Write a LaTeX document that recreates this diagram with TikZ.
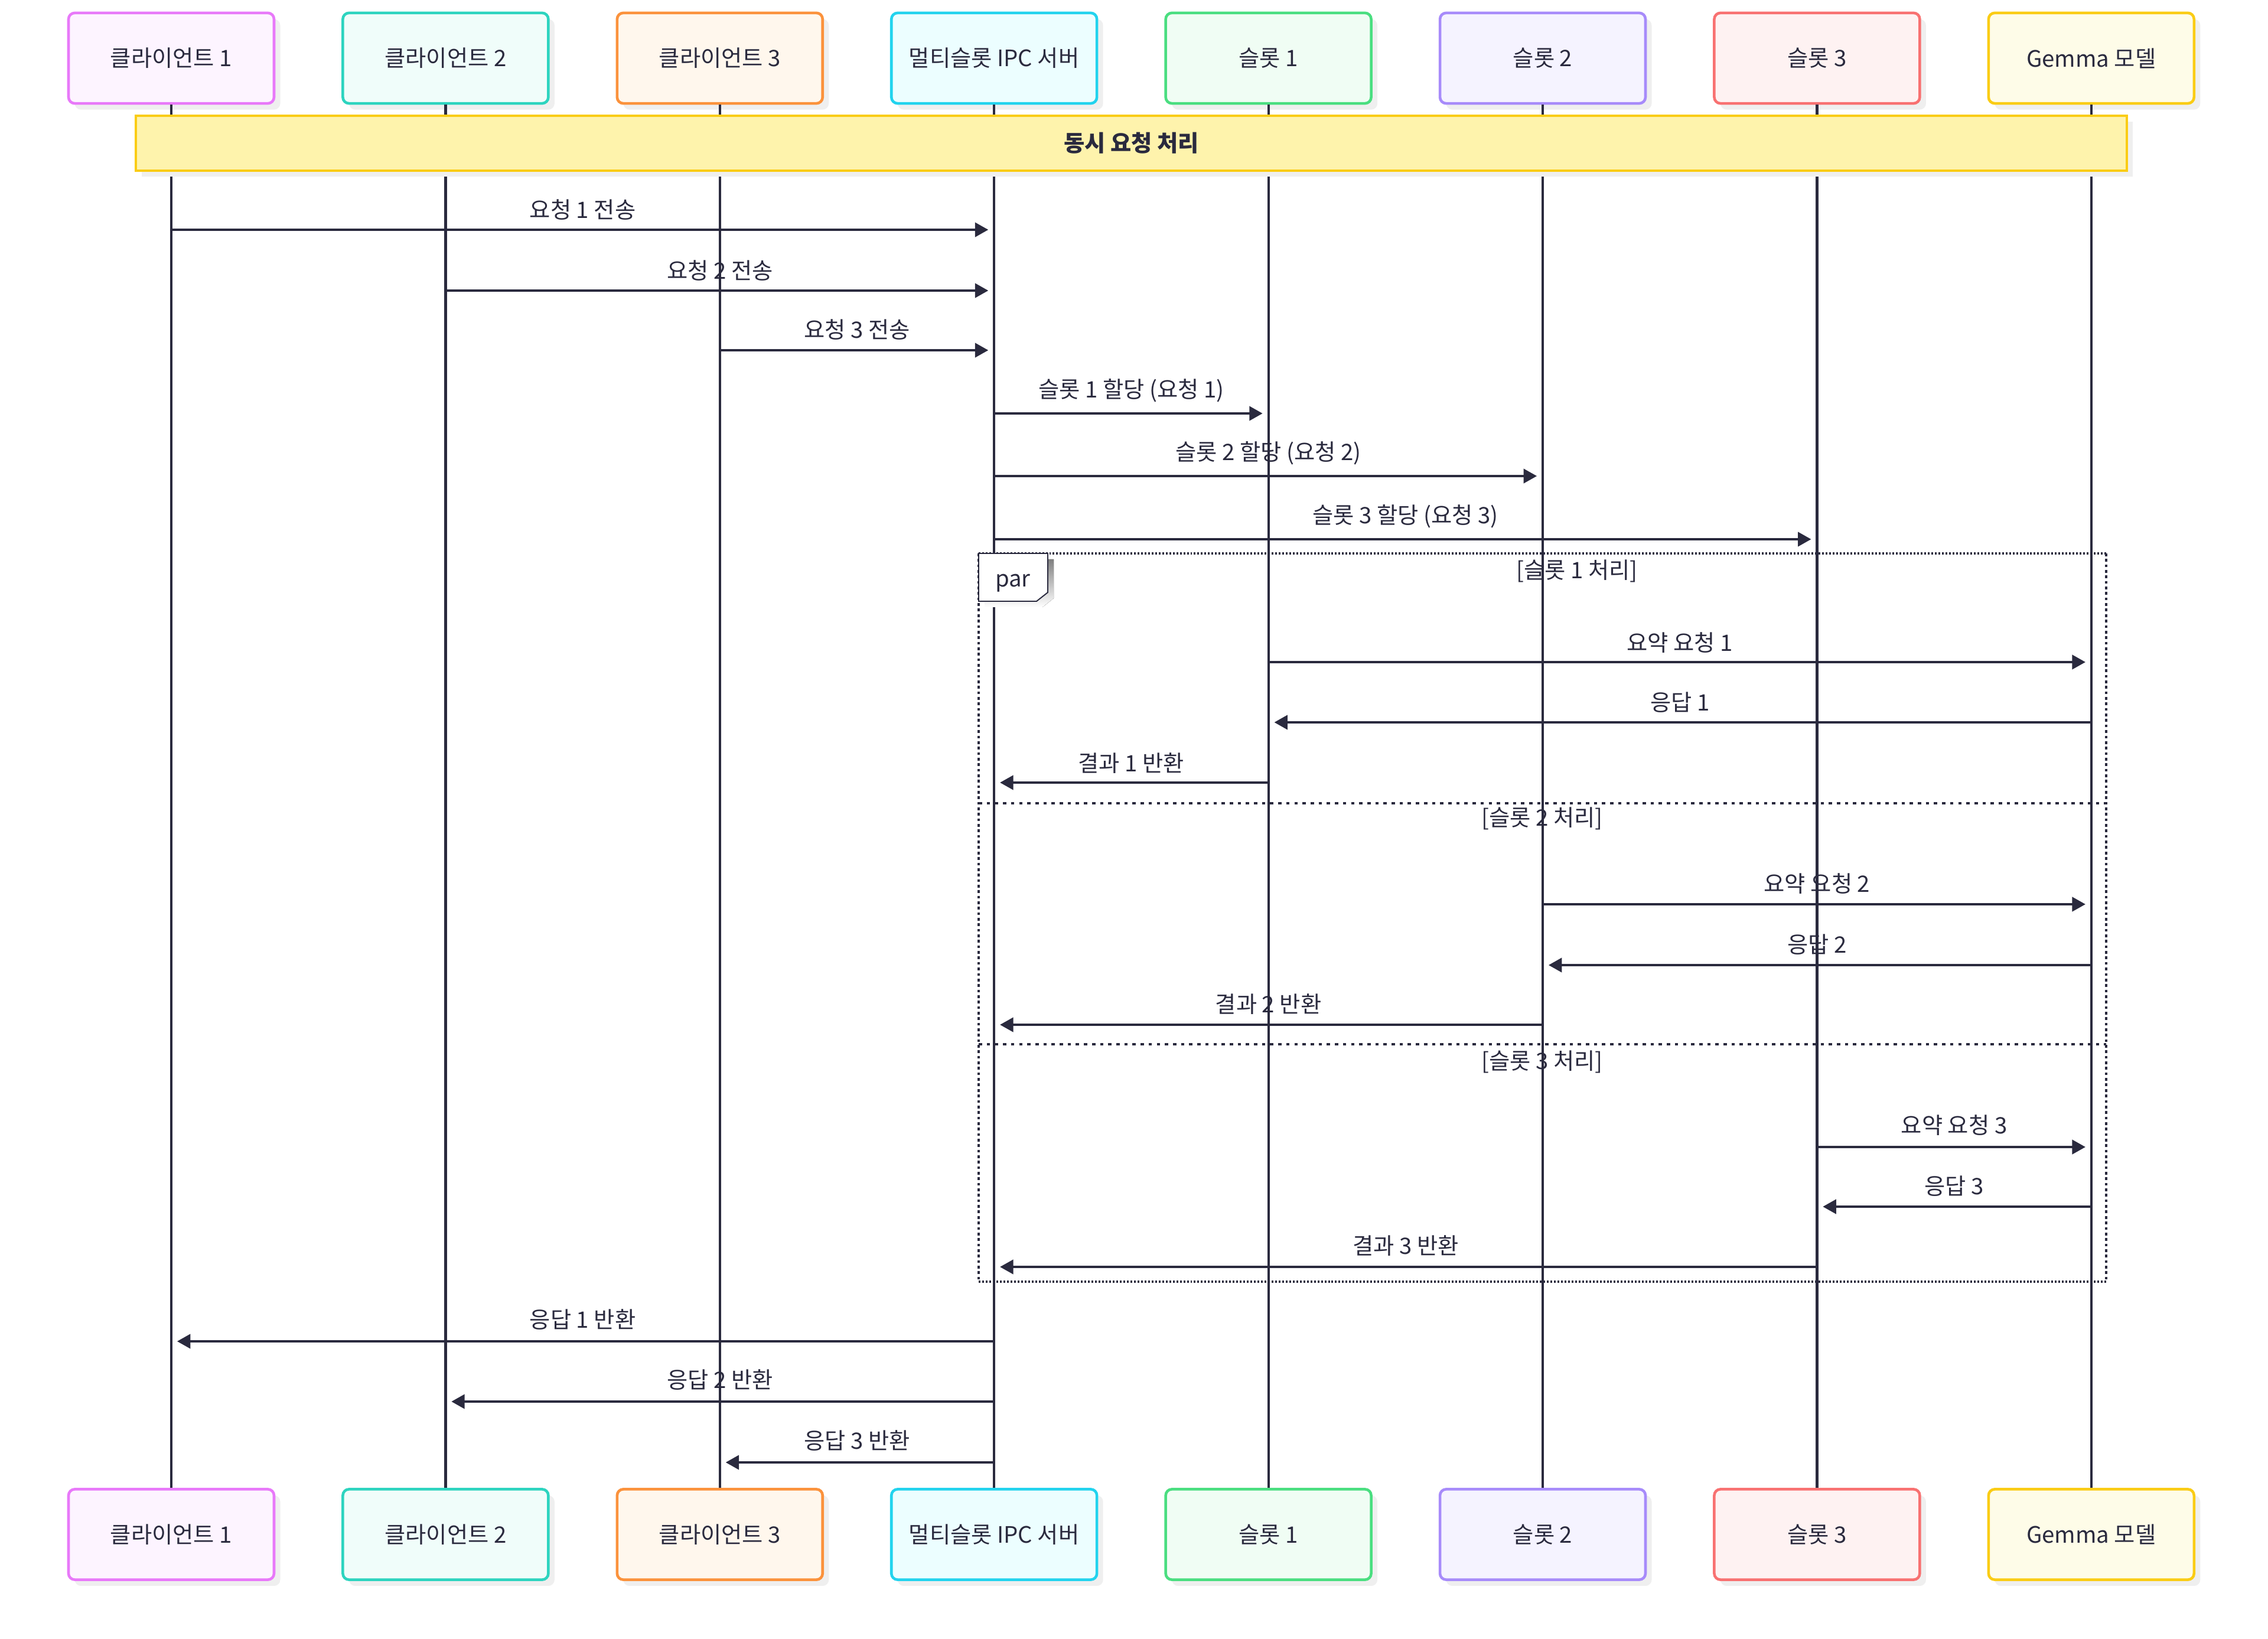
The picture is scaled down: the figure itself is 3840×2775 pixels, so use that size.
\documentclass[tikz,border=0pt]{standalone}
\usepackage{fontspec}
\setmainfont{Noto Sans CJK KR}
\usetikzlibrary{arrows.meta,shadows,calc}

\definecolor{ink}{HTML}{2A2A3E}
\definecolor{shade}{HTML}{EFEFEF}
\definecolor{cOneLine}{HTML}{E879F9}\definecolor{cOneFill}{HTML}{FDF4FF}
\definecolor{cTwoLine}{HTML}{2DD4BF}\definecolor{cTwoFill}{HTML}{F0FDFA}
\definecolor{cThreeLine}{HTML}{FB923C}\definecolor{cThreeFill}{HTML}{FFF7ED}
\definecolor{srvLine}{HTML}{22D3EE}\definecolor{srvFill}{HTML}{ECFEFF}
\definecolor{sOneLine}{HTML}{4ADE80}\definecolor{sOneFill}{HTML}{F0FDF4}
\definecolor{sTwoLine}{HTML}{A78BFA}\definecolor{sTwoFill}{HTML}{F5F3FF}
\definecolor{sThreeLine}{HTML}{F87171}\definecolor{sThreeFill}{HTML}{FEF2F2}
\definecolor{gemLine}{HTML}{FACC15}\definecolor{gemFill}{HTML}{FEFCE8}
\definecolor{noteFill}{HTML}{FEF3AC}

% one unit = one pixel of a 3840 x 2775 canvas, y pointing down
\newcommand\msgline[5]{%
  \draw[msg] (#1 |- 0,#3) -- (#2 |- 0,#3);
  \path (#1 |- 0,#4) -- node[msglabel] {#5} (#2 |- 0,#4);
}

\begin{document}
\begin{tikzpicture}[x=0.28453pt,y=-0.28453pt,
  txt/.style={font=\fontsize{10.9}{13}\selectfont, text=ink},
  actor/.style={txt, draw=#1Line, fill=#1Fill, line width=1.3pt,
    rounded corners=3pt, minimum width=99pt, minimum height=43.6pt, inner sep=0pt,
    general shadow={fill=shade, shadow xshift=3pt, shadow yshift=-3pt}},
  lifeline/.style={draw=ink, line width=1.2pt},
  msg/.style={draw=ink, line width=1.25pt, shorten >=2.8pt,
    -{Triangle[length=6.4pt, width=6.8pt]}},
  msglabel/.style={txt, inner sep=0pt},
  frameline/.style={draw=ink, line width=1.1pt, dash pattern=on 0.85pt off 0.85pt},
  frameside/.style={draw=ink, line width=1.1pt, dash pattern=on 1.33pt off 1.33pt},
  framesep/.style={draw=ink, line width=1.1pt, dash pattern=on 1.6pt off 2.3pt},
]
\useasboundingbox (0,0) rectangle (3840,2775);

% participants, top row
\node[actor=cOne]   (pC1) at (290,98.5)    {클라이언트 1};
\node[actor=cTwo]   (pC2) at (754.4,98.5)  {클라이언트 2};
\node[actor=cThree] (pC3) at (1218.8,98.5) {클라이언트 3};
\node[actor=srv]    (pS)  at (1683.2,98.5) {멀티슬롯 IPC 서버};
\node[actor=sOne]   (p1)  at (2147.6,98.5) {슬롯 1};
\node[actor=sTwo]   (p2)  at (2612,98.5)   {슬롯 2};
\node[actor=sThree] (p3)  at (3076.4,98.5) {슬롯 3};
\node[actor=gem]    (pG)  at (3540.8,98.5) {Gemma 모델};

% participants, bottom row
\node[actor=cOne]   (bC1) at (290,2598)    {클라이언트 1};
\node[actor=cTwo]   (bC2) at (754.4,2598)  {클라이언트 2};
\node[actor=cThree] (bC3) at (1218.8,2598) {클라이언트 3};
\node[actor=srv]    (bS)  at (1683.2,2598) {멀티슬롯 IPC 서버};
\node[actor=sOne]   (b1)  at (2147.6,2598) {슬롯 1};
\node[actor=sTwo]   (b2)  at (2612,2598)   {슬롯 2};
\node[actor=sThree] (b3)  at (3076.4,2598) {슬롯 3};
\node[actor=gem]    (bG)  at (3540.8,2598) {Gemma 모델};

% lifelines
\foreach \a/\b in {pC1/bC1,pC2/bC2,pC3/bC3,pS/bS,p1/b1,p2/b2,p3/b3,pG/bG}
  \draw[lifeline] (\a.south) -- (\b.north);

% note spanning all participants
\node[txt, font=\fontsize{10.9}{13}\selectfont\bfseries, draw=gemLine, fill=noteFill,
  line width=1.15pt, minimum width=959.2pt, minimum height=26.5pt, inner sep=0pt,
  general shadow={fill=shade, shadow xshift=2.8pt, shadow yshift=-2.8pt}]
  (note) at (1915.5,242.5) {동시 요청 처리};

% requests from clients
\msgline{pC1}{pS}{389}{355}{요청 1 전송}
\msgline{pC2}{pS}{492}{458}{요청 2 전송}
\msgline{pC3}{pS}{593}{558}{요청 3 전송}
% slot assignment
\msgline{pS}{p1}{700}{661}{슬롯 1 할당 (요청 1)}
\msgline{pS}{p2}{806}{767}{슬롯 2 할당 (요청 2)}
\msgline{pS}{p3}{913}{874}{슬롯 3 할당 (요청 3)}

% par frame
\draw[frameline] (1657,937) -- (3566,937);
\draw[frameline] (1657,2170) -- (3566,2170);
\draw[frameside] (1657,937) -- (1657,2170);
\draw[frameside] (3566,937) -- (3566,2170);
\draw[framesep] (1657,1360) -- (3566,1360);
\draw[framesep] (1657,1768) -- (3566,1768);
\fill[shade] (1667,947) -- (1784,947) -- (1784,1013) -- (1765,1028) -- (1667,1028) -- cycle;
\draw[draw=ink, fill=white, line width=0.55pt]
  (1657,937) -- (1774,937) -- (1774,1003) -- (1755,1018) -- (1657,1018) -- cycle;
\node[txt, inner sep=0pt] (parlabel) at (1715,987) {par};
\node[txt, inner sep=0pt] (secA) at (2670,967)  {[슬롯 1 처리]};
\node[txt, inner sep=0pt] (secB) at (2611,1386) {[슬롯 2 처리]};
\node[txt, inner sep=0pt] (secC) at (2611,1798) {[슬롯 3 처리]};

% slot 1
\msgline{p1}{pG}{1121}{1088}{요약 요청 1}
\msgline{pG}{p1}{1223}{1189}{응답 1}
\msgline{p1}{pS}{1325}{1292}{결과 1 반환}
% slot 2
\msgline{p2}{pG}{1531}{1496}{요약 요청 2}
\msgline{pG}{p2}{1634}{1599}{응답 2}
\msgline{p2}{pS}{1735}{1700}{결과 2 반환}
% slot 3
\msgline{p3}{pG}{1942}{1905}{요약 요청 3}
\msgline{pG}{p3}{2043}{2008}{응답 3}
\msgline{p3}{pS}{2145}{2109}{결과 3 반환}

% replies to clients
\msgline{pS}{pC1}{2271}{2234}{응답 1 반환}
\msgline{pS}{pC2}{2373}{2336}{응답 2 반환}
\msgline{pS}{pC3}{2476}{2439}{응답 3 반환}
\end{tikzpicture}
\end{document}
